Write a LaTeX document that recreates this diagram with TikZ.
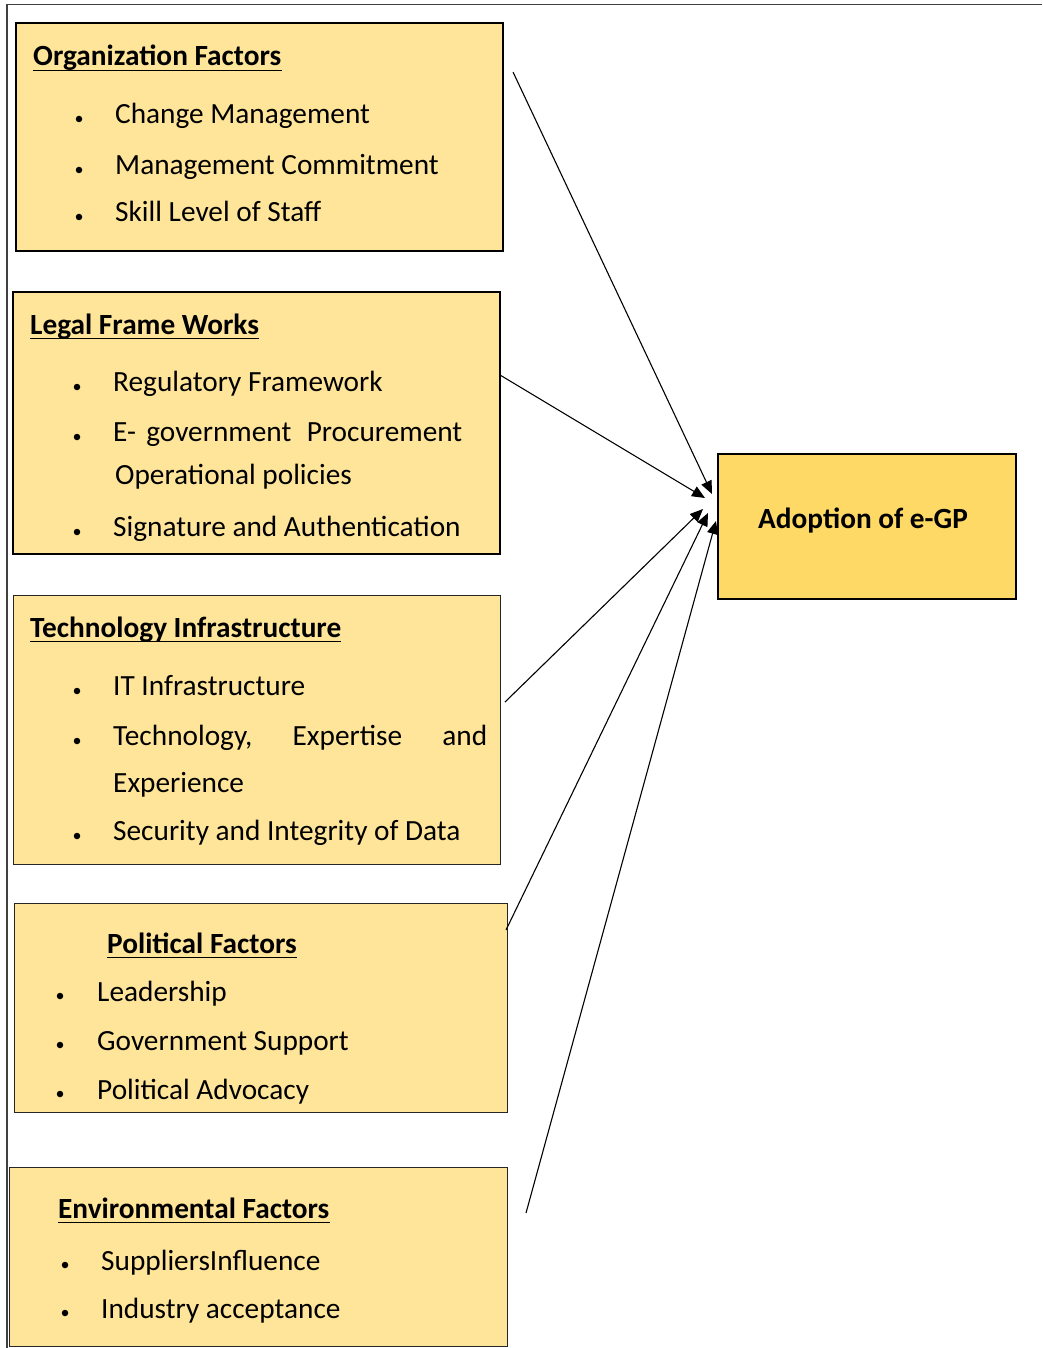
\documentclass[tikz,border=0pt]{standalone}
\usepackage{fontspec}
\setmainfont{Carlito}
\usetikzlibrary{arrows.meta}
\definecolor{boxfill}{HTML}{FFE599}
\definecolor{mainfill}{HTML}{FFD966}
\tikzset{
  factorbox/.style={draw=black, line width=2pt, fill=boxfill, anchor=north west, inner sep=0pt},
  thinbox/.style={draw=black!85, line width=1.4pt, fill=boxfill, anchor=north west, inner sep=0pt},
  mainbox/.style={draw=black, line width=2pt, fill=mainfill, anchor=north west, inner sep=0pt},
  ttl/.style={anchor=base west, inner sep=0pt, font=\fontsize{29.3}{35}\selectfont\bfseries},
  itemtext/.style={anchor=base west, inner sep=0pt, font=\fontsize{29.3}{35}\selectfont},
  bul/.style={circle, fill=black, inner sep=0pt, minimum size=6.5pt},
  uline/.style={line width=1.8pt},
  conn/.style={line width=1.1pt, -{Triangle[length=13pt,width=11pt]}},
  frame/.style={line width=1.5pt, black!75},
}
\begin{document}
\begin{tikzpicture}[x=1pt,y=-1pt]
\useasboundingbox (0,0) rectangle (1042,1348);
% outer frame lines
\draw[frame] (1042,4.5) -- (7,4.5) -- (7,1348);

% ---------- Box 1: Organization Factors
\node[factorbox, minimum width=487pt, minimum height=228pt] (org) at (14.5,22.5) {};
\node[ttl] (orgT) at (33,66) {Organization Factors};
\draw[uline] ([yshift=-4.5pt]orgT.base west) -- ([yshift=-4.5pt]orgT.base east);
\node[bul] (orgB1) at (79,119) {};
\node[itemtext] (orgI1) at (115,124) {Change Management};
\node[bul] (orgB2) at (79,170) {};
\node[itemtext] (orgI2) at (115,175) {Management Commitment};
\node[bul] (orgB3) at (79,217) {};
\node[itemtext] (orgI3) at (115,222) {Skill Level of Staff};

% ---------- Box 2: Legal Frame Works
\node[factorbox, minimum width=487pt, minimum height=262pt] (legal) at (11.5,291) {};
\node[ttl] (legT) at (30,334) {Legal Frame Works};
\draw[uline] ([yshift=-4.5pt]legT.base west) -- ([yshift=-4.5pt]legT.base east);
\node[bul] (legB1) at (77,387) {};
\node[itemtext] (legI1) at (113,391) {Regulatory Framework};
\node[bul] (legB2) at (77,437) {};
\node[itemtext] (legI2) at (113,441) {\hbox to 349pt{E-\hskip0pt plus 2fill government\hskip0pt plus 3fill Procurement}};
\node[itemtext] (legI2b) at (115,484) {Operational policies};
\node[bul] (legB3) at (77,532) {};
\node[itemtext] (legI3) at (113,536) {Signature and Authentication};

% ---------- Box 3: Technology Infrastructure
\node[thinbox, minimum width=487pt, minimum height=269pt] (tech) at (13,594.5) {};
\node[ttl] (tecT) at (30,637) {Technology Infrastructure};
\draw[uline] ([yshift=-4.5pt]tecT.base west) -- ([yshift=-4.5pt]tecT.base east);
\node[bul] (tecB1) at (77,691) {};
\node[itemtext] (tecI1) at (113,695) {IT Infrastructure};
\node[bul] (tecB2) at (77,741) {};
\node[itemtext] (tecI2) at (113,745) {\hbox to 374pt{Technology,\hfill Expertise\hfill and}};
\node[itemtext] (tecI2b) at (113,792) {Experience};
\node[bul] (tecB3) at (77,836) {};
\node[itemtext] (tecI3) at (113,840) {Security and Integrity of Data};

% ---------- Box 4: Political Factors
\node[thinbox, minimum width=493pt, minimum height=209pt] (pol) at (13.5,902.5) {};
\node[ttl] (polT) at (107,953) {Political Factors};
\draw[uline] ([yshift=-4.5pt]polT.base west) -- ([yshift=-4.5pt]polT.base east);
\node[bul] (polB1) at (60,996) {};
\node[itemtext] (polI1) at (97,1001) {Leadership};
\node[bul] (polB2) at (60,1045) {};
\node[itemtext] (polI2) at (97,1050) {Government Support};
\node[bul] (polB3) at (60,1094) {};
\node[itemtext] (polI3) at (97,1099) {Political Advocacy};

% ---------- Box 5: Environmental Factors
\node[thinbox, minimum width=498pt, minimum height=179pt] (env) at (8.5,1167) {};
\node[ttl] (envT) at (58,1218) {Environmental Factors};
\draw[uline] ([yshift=-4.5pt]envT.base west) -- ([yshift=-4.5pt]envT.base east);
\node[bul] (envB1) at (65,1265) {};
\node[itemtext] (envI1) at (101,1270) {SuppliersInfluence};
\node[bul] (envB2) at (65,1313) {};
\node[itemtext] (envI2) at (101,1318) {Industry acceptance};

% ---------- Adoption box
\node[mainbox, minimum width=298pt, minimum height=145pt] (adopt) at (717,452.5) {};
\node[ttl] (adoptT) at (758,528) {Adoption of e-GP};

% ---------- connectors
\coordinate (s1) at (513,72);
\coordinate (e1) at (712,494);
\coordinate (s2) at (500,375);
\coordinate (e2) at (705,498);
\coordinate (s3) at (505,702);
\coordinate (e3) at (703,509);
\coordinate (s4) at (506,930);
\coordinate (e4) at (708,513);
\coordinate (s5) at (526,1213);
\coordinate (e5) at (716,521);
\draw[conn] (s1) -- (e1);
\draw[conn] (s2) -- (e2);
\draw[conn] (s3) -- (e3);
\draw[conn] (s4) -- (e4);
\draw[conn] (s5) -- (e5);
\end{tikzpicture}
\end{document}
